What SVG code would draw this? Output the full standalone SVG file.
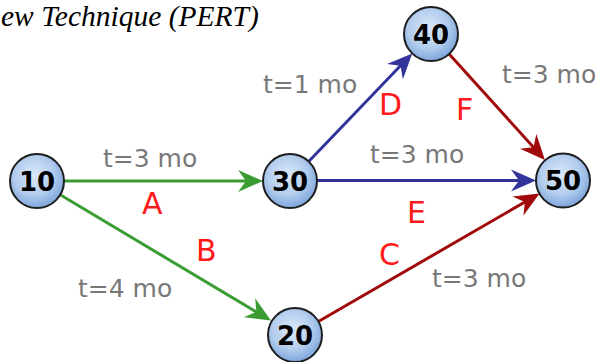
<svg xmlns="http://www.w3.org/2000/svg" width="595" height="362" viewBox="0 0 595 362">
<style>
.node circle{fill:url(#ng);stroke:#1e1e1e;stroke-width:2}
.node text{font-family:"DejaVu Sans",sans-serif;font-weight:bold;font-size:26px;fill:#000;text-anchor:middle}
.t{font-family:"DejaVu Sans",sans-serif;font-size:25px;fill:#787878}
.l{font-family:"DejaVu Sans",sans-serif;font-size:30px;fill:#ff1a1a}
.g{stroke:#3c9c34;stroke-width:3;fill:none;marker-end:url(#mg)}
.b{stroke:#33339c;stroke-width:3;fill:none;marker-end:url(#mb)}
.r{stroke:#a00a0a;stroke-width:3;fill:none;marker-end:url(#mr)}
</style>
<defs>
<radialGradient id="ng" cx="0.45" cy="0.4" r="0.6">
<stop offset="0" stop-color="#dbe9f9"/>
<stop offset="0.6" stop-color="#b3cdee"/>
<stop offset="1" stop-color="#7ea6da"/>
</radialGradient>
<marker id="mg" markerUnits="userSpaceOnUse" viewBox="-20 -12 27 24" refX="0" refY="0" markerWidth="27" markerHeight="24" orient="auto"><path d="M6,0 L-19,-11 L-11,0 L-19,11 Z" fill="#3c9c34"/></marker>
<marker id="mb" markerUnits="userSpaceOnUse" viewBox="-20 -12 27 24" refX="0" refY="0" markerWidth="27" markerHeight="24" orient="auto"><path d="M6,0 L-19,-11 L-11,0 L-19,11 Z" fill="#33339c"/></marker>
<marker id="mr" markerUnits="userSpaceOnUse" viewBox="-20 -12 27 24" refX="0" refY="0" markerWidth="27" markerHeight="24" orient="auto"><path d="M6,0 L-19,-11 L-11,0 L-19,11 Z" fill="#a00a0a"/></marker>
</defs>
<rect width="595" height="362" fill="#fff"/>
<text x="1" y="26" style="font-family:'Liberation Serif',serif;font-style:italic;font-size:29.5px;fill:#000">ew Technique (PERT)</text>
<g id="connectors">
<line class="g" x1="64" y1="181" x2="257" y2="181"/>
<line class="g" x1="60.2" y1="194.8" x2="265.8" y2="317.5"/>
<line class="b" x1="308.7" y1="161.5" x2="408.1" y2="57.8"/>
<line class="b" x1="317" y1="180.5" x2="530" y2="180.5"/>
<line class="r" x1="449.1" y1="54" x2="540.9" y2="155.5"/>
<line class="r" x1="318.4" y1="321.5" x2="534.4" y2="196.5"/>
</g>
<g id="labels">
<text class="t" x="103" y="167">t=3 mo</text>
<text class="l" x="142" y="214">A</text>
<text class="t" x="78" y="297">t=4 mo</text>
<text class="l" x="196" y="261">B</text>
<text class="t" x="263" y="93">t=1 mo</text>
<text class="l" x="379" y="115">D</text>
<text class="t" x="370" y="163">t=3 mo</text>
<text class="l" x="407" y="223">E</text>
<text class="t" x="502" y="83">t=3 mo</text>
<text class="l" x="456" y="120">F</text>
<text class="l" x="379" y="265">C</text>
<text class="t" x="432" y="287">t=3 mo</text>
</g>
<g id="n10" class="node"><circle cx="37" cy="181" r="27"/><text x="37" y="190.5">10</text></g>
<g id="n30" class="node"><circle cx="290" cy="181" r="27"/><text x="290" y="190.5">30</text></g>
<g id="n40" class="node"><circle cx="431" cy="34" r="27"/><text x="431" y="43.5">40</text></g>
<g id="n50" class="node"><circle cx="563" cy="180.5" r="27"/><text x="563" y="190">50</text></g>
<g id="n20" class="node"><circle cx="295" cy="335" r="27"/><text x="295" y="344.5">20</text></g>
</svg>
